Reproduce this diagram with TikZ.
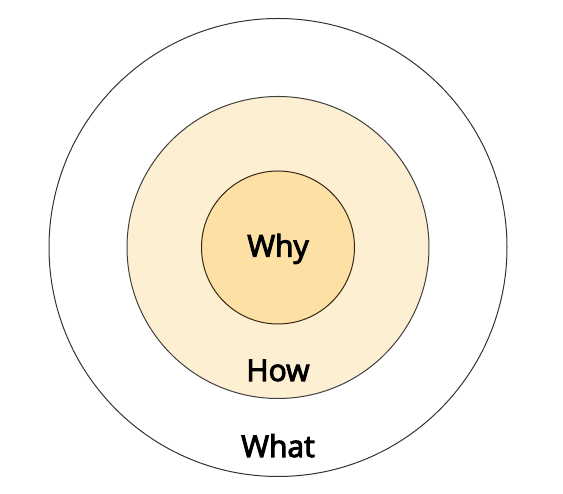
\documentclass[tikz,border=0pt]{standalone}
\usepackage{fontspec}
\newfontfamily\lblfont{Open Sans}[FakeBold=3.5]
\begin{document}
\begin{tikzpicture}[x=1pt,y=1pt,
  ring/.style={circle, draw=black!80, line width=1pt, inner sep=0pt},
  lbl/.style={anchor=base, font=\lblfont\fontsize{30}{32}\selectfont, text=black}]
\useasboundingbox (0,0) rectangle (563,494);
\definecolor{midfill}{HTML}{FCEFD2}
\definecolor{innfill}{HTML}{FCE0A4}
\node[ring, minimum size=458pt, fill=white] (what) at (278,246.5) {};
\node[ring, minimum size=302pt, fill=midfill, draw=black!75] (how) at (278,246.5) {};
\node[ring, minimum size=153pt, fill=innfill, draw=black!70!brown] (why) at (278,246.5) {};
\node[lbl] (twhy) at (278,237.3) {Why};
\node[lbl] (thow) at (278,113) {How};
\node[lbl] (twhat) at (278,37) {What};
\end{tikzpicture}
\end{document}
